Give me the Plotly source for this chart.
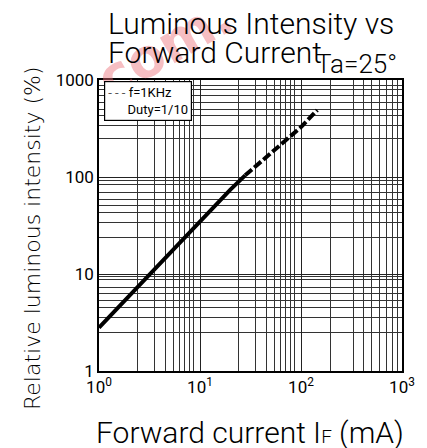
import plotly.graph_objects as go

# ---- data ----
if_solid = [1, 2, 5, 10, 20, 28]
lum_solid = [2.8, 6.0, 16.5, 34.5, 74, 104]
if_dash = [28, 50, 100, 145]
lum_dash = [104, 175, 327, 490]

x_major = [1, 10, 100, 1000]
x_major_text = ["10<sup>0</sup>", "10<sup>1</sup>", "10<sup>2</sup>", "10<sup>3</sup>"]
y_major = [1, 10, 100, 1000]
y_major_text = ["1", "10", "100", "1000"]

# grid lines as drawn on the sheet (not exact log positions)
x_minor = [2.43, 3.56, 4.57, 5.49, 6.30, 7.06, 7.91, 8.72,
           24.3, 35.6, 45.7, 54.9, 63.0, 70.6, 79.1, 87.2,
           196, 333, 419, 502, 595, 698, 811, 902]
y_minor = [2.49, 3.6, 4.49, 5.33, 6.24, 7.29, 8.69, 9.38,
           23.8, 34.1, 43.2, 50.6, 59.3, 69.4, 82.8, 91.6,
           250, 337, 427, 493, 588, 688, 807, 888]

FONT = "Roboto, Liberation Sans, sans-serif"

fig = go.Figure()
fig.add_trace(go.Scatter(x=if_solid, y=lum_solid, mode="lines",
                         line=dict(color="black", width=4), showlegend=False))
fig.add_trace(go.Scatter(x=if_dash, y=lum_dash, mode="lines",
                         line=dict(color="black", width=4, dash="9px,3px"), showlegend=False))

common = dict(type="log", range=[0, 3], tickmode="array", ticks="", showline=True,
              linecolor="black", linewidth=1.5, mirror=True, zeroline=False,
              automargin=False, showgrid=True, gridcolor="#222", gridwidth=1)
fig.update_xaxes(tickvals=x_major, ticktext=x_major_text,
                 tickfont=dict(family=FONT, size=17, color="black"),
                 minor=dict(tickmode="array", tickvals=x_minor, showgrid=True,
                            gridcolor="#333", gridwidth=1, ticks=""),
                 **common)
fig.update_yaxes(tickvals=y_major, ticktext=y_major_text,
                 tickfont=dict(family=FONT, size=17, color="black"),
                 minor=dict(tickmode="array", tickvals=y_minor, showgrid=True,
                            gridcolor="#333", gridwidth=1, ticks=""),
                 **common)

ann = []
# watermark
ann.append(dict(text="com.", x=165, y=48, showarrow=False,
                font=dict(family="DejaVu Sans", size=54, color="rgba(235,110,120,0.45)", weight="bold"),
                textangle=-30, xanchor="center", yanchor="middle"))
# title
ann.append(dict(text="Luminous Intensity vs", x=106, y=43, showarrow=False,
                font=dict(family=FONT, size=30, color="black", weight=300),
                xanchor="left", yanchor="bottom"))
ann.append(dict(text="Forward Current", x=106, y=72, showarrow=False,
                font=dict(family=FONT, size=30, color="black", weight=300),
                xanchor="left", yanchor="bottom"))
ann.append(dict(text="Ta=25°", x=314, y=81, showarrow=False,
                font=dict(family=FONT, size=26, color="black", weight=300),
                xanchor="left", yanchor="bottom"))
# axis titles
ann.append(dict(text="Forward current I<span style='font-size:19px'>F</span> (mA)",
                x=250, y=432, showarrow=False,
                font=dict(family=FONT, size=30, color="black", weight=300),
                xanchor="center", yanchor="middle"))
ann.append(dict(text="Relative luminous intensity (%)", x=32, y=238, showarrow=False,
                textangle=-90, font=dict(family="DejaVu Sans", size=22, color="black", weight=300),
                xanchor="center", yanchor="middle"))
# legend box
ann.append(dict(text="<span style='color:#555'>- - -</span> f=1KHz<br>      Duty=1/10",
                x=104, y=81, showarrow=False, align="left",
                font=dict(family=FONT, size=13, color="black"),
                bgcolor="white", bordercolor="black", borderwidth=1.2, borderpad=3,
                xanchor="left", yanchor="top"))

# the page body adds an 8px offset; work in screen pixels and shift
OFF = 8
W, H = 427 - OFF, 448 - OFF
plot_l, plot_r, plot_t, plot_b = 99, 402, 80, 371
L, T = plot_l - OFF, plot_t - OFF
R, B = W - (plot_r - OFF), H - (plot_b - OFF)
pw, ph = W - L - R, H - T - B
for a in ann:
    a["x"] = (a["x"] - OFF - L) / pw
    a["y"] = 1 - (a["y"] - OFF - T) / ph
    a["xref"] = "paper"
    a["yref"] = "paper"

fig.update_layout(width=W, height=H, margin=dict(l=L, r=R, t=T, b=B),
                  plot_bgcolor="white", paper_bgcolor="white",
                  annotations=ann, showlegend=False)
fig.write_html("out.html")
